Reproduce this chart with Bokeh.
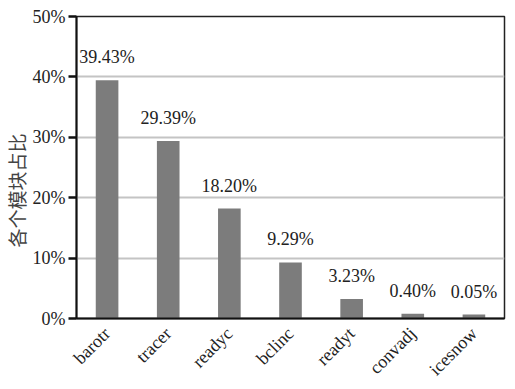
from math import pi
from bokeh.plotting import figure
from bokeh.models import ColumnDataSource, FactorRange, Range1d, PrintfTickFormatter, Title, FixedTicker
from bokeh.core.properties import value
from bokeh.embed import file_html
from bokeh.resources import INLINE

modules = ["barotr", "tracer", "readyc", "bclinc", "readyt", "convadj", "icesnow"]
shares = [39.43, 29.39, 18.20, 9.29, 3.23, 0.80, 0.65]
share_labels = ["39.43%", "29.39%", "18.20%", "9.29%", "3.23%", "0.40%", "0.05%"]
y_ticks = [0, 10, 20, 30, 40, 50]
y_title = "各个模块占比"

SERIF = "'Liberation Serif', 'Times New Roman', serif"

src = ColumnDataSource(dict(m=modules, v=shares, lab=share_labels))

p = figure(width=515, height=389, x_range=FactorRange(*modules, range_padding=0),
           y_range=Range1d(0, 50), output_backend="svg", toolbar_location=None,
           min_border_left=76, min_border_right=11, min_border_top=16, min_border_bottom=71)
p.background_fill_color = "white"
p.border_fill_color = "white"
p.outline_line_color = "#222222"
p.outline_line_width = 1.5

p.vbar(x="m", top="v", width=0.37, source=src, fill_color="#7c7c7c", line_color=None)
p.text(x="m", y="v", text="lab", source=src, text_align="center", text_baseline="bottom",
       y_offset=-13, text_font=value(SERIF), text_font_size="18px", text_color="#222222")

p.xgrid.visible = False
p.ygrid.ticker = FixedTicker(ticks=[10, 20, 30, 40])
p.ygrid.grid_line_color = "#c4c4c4"
p.ygrid.grid_line_width = 2

p.yaxis.ticker = FixedTicker(ticks=y_ticks)
p.yaxis.formatter = PrintfTickFormatter(format="%d%%")
p.yaxis.major_tick_out = 8
p.yaxis.major_tick_in = 0
p.yaxis.major_tick_line_width = 2.5
p.yaxis.major_tick_line_color = "#111111"
p.yaxis.minor_tick_line_color = None
p.yaxis.axis_line_width = 2
p.yaxis.axis_line_color = "#111111"
p.yaxis.major_label_text_font = SERIF
p.yaxis.major_label_text_font_size = "18px"
p.yaxis.major_label_text_color = "#222222"
p.yaxis.major_label_standoff = 3

p.xaxis.major_tick_line_color = None
p.xaxis.minor_tick_line_color = None
p.xaxis.axis_line_width = 2
p.xaxis.axis_line_color = "#111111"
p.xaxis.major_label_orientation = pi / 4
p.xaxis.major_label_text_font = SERIF
p.xaxis.major_label_text_font_size = "18px"
p.xaxis.major_label_text_color = "#222222"
p.xaxis.major_label_standoff = 6

p.add_layout(Title(text=y_title, align="left", offset=71, text_font="Noto Sans CJK SC",
                   text_font_size="19px", text_font_style="normal", text_color="#444444",
                   standoff=0), "left")

open("out.html", "w").write(file_html(p, INLINE))
